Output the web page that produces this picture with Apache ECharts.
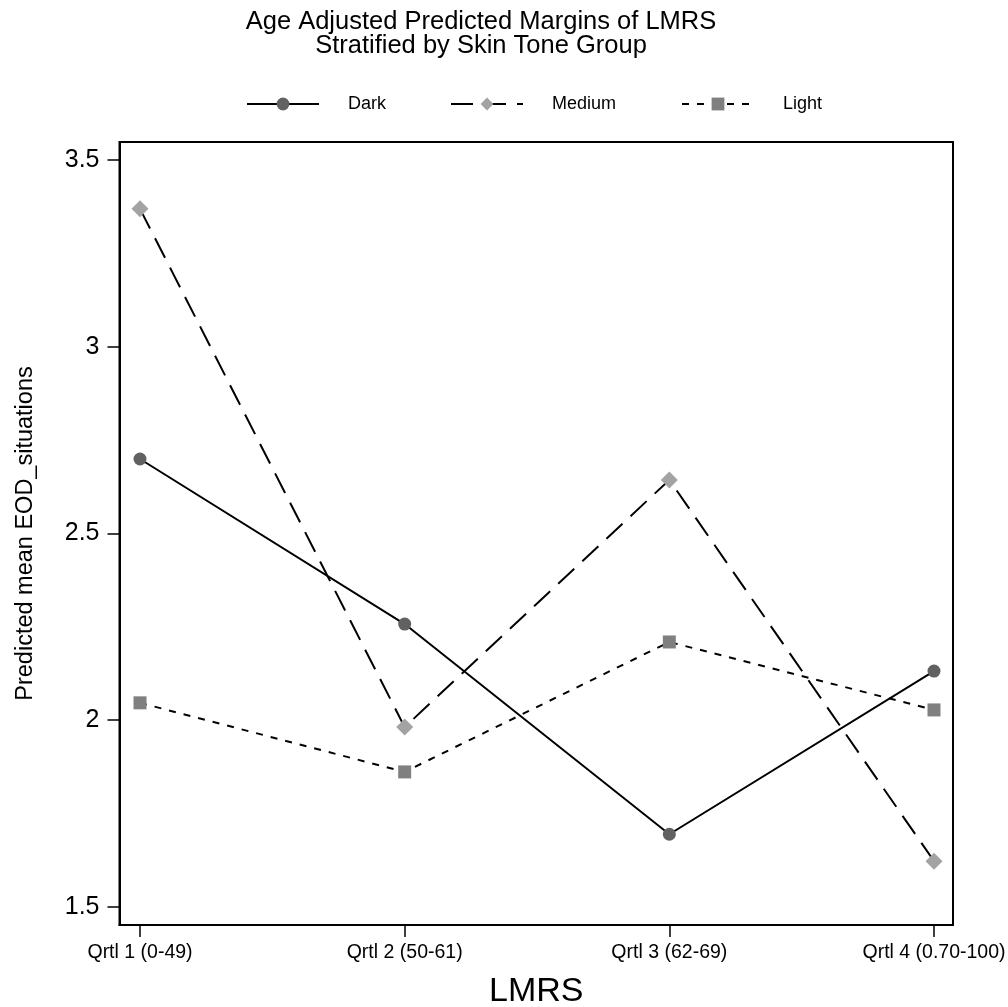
<!DOCTYPE html>
<html>
<head>
<meta charset="utf-8">
<script src="https://cdn.jsdelivr.net/npm/echarts@6/dist/echarts.min.js"></script>
<style>
html,body{margin:0;padding:0;background:#fff;}
#main{width:1008px;height:1007px;}
</style>
</head>
<body>
<div id="main"></div>
<script>
// ---- data ----
var categories = ['Qrtl 1 (0-49)', 'Qrtl 2 (50-61)', 'Qrtl 3 (62-69)', 'Qrtl 4 (0.70-100)'];
var categoryPositions = [1, 2, 3, 4];
var darkValues = [2.699, 2.257, 1.694, 2.131];
var mediumValues = [3.369, 1.981, 2.643, 1.622];
var lightValues = [2.046, 1.861, 2.209, 2.027];
var yTicks = [1.5, 2, 2.5, 3, 3.5];
var yTickLabels = ['1.5', '2', '2.5', '3', '3.5'];
var seriesNames = ['Dark', 'Medium', 'Light'];

var FONT = "'Liberation Sans', Arial, Helvetica, sans-serif";

function pairs(vals) {
  return vals.map(function (v, i) { return [categoryPositions[i], v]; });
}

var chart = echarts.init(document.getElementById('main'), null, { renderer: 'canvas' });

function legendAt(name, left) {
  return {
    data: [name],
    left: left,
    top: 95,
    padding: 0,
    itemWidth: 72,
    itemHeight: 16,
    selectedMode: false,
    textStyle: { color: '#000', fontSize: 18, fontFamily: FONT, padding: [0, 0, 0, 24] }
  };
}

var option = {
  animation: false,
  backgroundColor: '#fff',
  title: {
    text: 'Age Adjusted Predicted Margins of LMRS\nStratified by Skin Tone Group',
    left: 481,
    top: 10,
    padding: 0,
    textAlign: 'center',
    textStyle: { color: '#000', fontSize: 25.5, fontWeight: 'normal', fontFamily: FONT, lineHeight: 24 }
  },
  legend: [
    legendAt('Dark', 246),
    legendAt('Medium', 450),
    legendAt('Light', 681)
  ],
  grid: {
    left: 119.5, top: 142, right: 55, bottom: 82,
    outerBoundsMode: 'none',
    containLabel: false,
    show: true, borderColor: '#000', borderWidth: 2, backgroundColor: '#fff'
  },
  xAxis: {
    type: 'value',
    min: 0.9225,
    max: 4.0718,
    splitLine: { show: false },
    axisLine: { show: true, lineStyle: { color: '#000', width: 2 } },
    axisTick: { show: true, length: 12, customValues: categoryPositions, lineStyle: { color: '#000', width: 1.5 } },
    axisLabel: {
      customValues: categoryPositions,
      margin: 18,
      color: '#000', fontSize: 19.5, fontFamily: FONT,
      formatter: function (v) { return categories[Math.round(v) - 1]; }
    },
    name: 'LMRS',
    nameLocation: 'middle',
    nameGap: 50,
    nameTextStyle: { color: '#000', fontSize: 34, fontFamily: FONT }
  },
  yAxis: {
    type: 'value',
    min: 1.451,
    max: 3.548,
    splitLine: { show: false },
    axisLine: { show: true, lineStyle: { color: '#000', width: 2 } },
    axisTick: { show: true, length: 12, customValues: yTicks, lineStyle: { color: '#000', width: 1.5 } },
    axisLabel: {
      customValues: yTicks,
      margin: 20,
      color: '#000', fontSize: 25, fontFamily: FONT,
      formatter: function (v) { var i = yTicks.indexOf(v); return i >= 0 ? yTickLabels[i] : ''; }
    },
    name: 'Predicted mean EOD_situations',
    nameLocation: 'middle',
    nameGap: 82,
    nameTextStyle: { color: '#000', fontSize: 23.5, fontFamily: FONT }
  },
  series: [
    {
      name: seriesNames[0], type: 'line', data: pairs(darkValues),
      symbol: 'circle', symbolSize: 13,
      itemStyle: { color: '#616161' },
      lineStyle: { color: '#000', width: 2, type: 'solid' }
    },
    {
      name: seriesNames[1], type: 'line', data: pairs(mediumValues),
      symbol: 'diamond', symbolSize: 17,
      itemStyle: { color: '#a3a3a3' },
      lineStyle: { color: '#000', width: 2, type: [22, 11] }
    },
    {
      name: seriesNames[2], type: 'line', data: pairs(lightValues),
      symbol: 'rect', symbolSize: 13,
      itemStyle: { color: '#808080' },
      lineStyle: { color: '#000', width: 2, type: [7, 8] }
    }
  ]
};
chart.setOption(option);
</script>
</body>
</html>
